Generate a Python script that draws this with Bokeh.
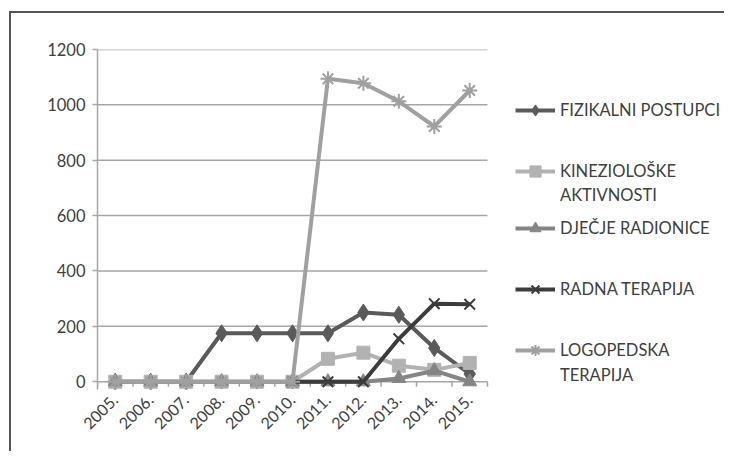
import math
from bokeh.plotting import figure
from bokeh.models import Range1d, FixedTicker, Legend, LegendItem
from bokeh.embed import file_html
from bokeh.resources import INLINE

years = ["2005.", "2006.", "2007.", "2008.", "2009.", "2010.",
         "2011.", "2012.", "2013.", "2014.", "2015."]
fizikalni = [0, 0, 0, 175, 175, 175, 175, 250, 242, 122, 28]
kinezioloske = [0, 0, 0, 0, 0, 0, 83, 105, 58, 43, 68]
djecje = [0, 0, 0, 0, 0, 0, 0, 0, 12, 40, 0]
radna = [math.nan, math.nan, math.nan, math.nan, math.nan, 0, 0, 0, 155, 282, 280]
logopedska = [0, 0, 0, 0, 0, 0, 1094, 1078, 1013, 922, 1052]
y_ticks = [0, 200, 400, 600, 800, 1000, 1200]

FONT = "Lato"
TXT = "#404040"
AX = "#a6a6a6"

W, H = 715, 440
LEFT, TOP, BOTTOM = 86, 36, 64
CAT_PX = 35.45
frame_w = W - LEFT
xs = list(range(len(years)))

p = figure(width=W, height=H, output_backend="svg", toolbar_location=None,
           x_range=Range1d(-0.5, -0.5 + frame_w / CAT_PX),
           y_range=Range1d(-28, 1200),
           min_border_left=LEFT, min_border_right=0, min_border_top=TOP,
           min_border_bottom=BOTTOM)
p.styles = {"margin-left": "9px", "margin-top": "11px",
            "border-top": "2px solid #555555", "border-left": "2px solid #555555"}
p.outline_line_color = None
p.background_fill_color = "white"
p.border_fill_color = "white"

p.xgrid.visible = False
p.ygrid.visible = False

# horizontal gridlines spanning only the category area
x_lo, x_hi = -0.5, len(years) - 0.5
p.segment(x0=[x_lo] * len(y_ticks), y0=y_ticks, x1=[x_hi] * len(y_ticks), y1=y_ticks,
          line_color=AX, line_width=1.5)

p.yaxis.ticker = FixedTicker(ticks=y_ticks)
p.yaxis.axis_line_color = AX
p.yaxis.axis_line_width = 1.5
p.yaxis.major_tick_line_color = AX
p.yaxis.major_tick_line_width = 1.5
p.yaxis.major_tick_out = 5
p.yaxis.major_tick_in = 0
p.yaxis.minor_tick_line_color = None
p.yaxis.major_label_standoff = 7
p.yaxis.major_label_text_font = FONT
p.yaxis.major_label_text_font_size = "16.5px"
p.yaxis.major_label_text_color = TXT

p.xaxis.ticker = FixedTicker(ticks=xs)
p.xaxis.major_label_overrides = {i: y for i, y in enumerate(years)}
p.xaxis.axis_line_color = None
p.xaxis.major_tick_line_color = None
p.xaxis.minor_tick_line_color = None
p.xaxis.major_label_orientation = math.pi / 4
p.xaxis.major_label_standoff = 2
p.xaxis.major_label_text_font = FONT
p.xaxis.major_label_text_font_size = "16px"
p.xaxis.major_label_text_color = TXT

# category boundary tick marks below the zero line
bounds = [i - 0.5 for i in range(len(years) + 1)]
p.segment(x0=bounds, y0=[0] * len(bounds), x1=bounds, y1=[-18] * len(bounds),
          line_color=AX, line_width=1.5)

series = [
    (["FIZIKALNI POSTUPCI"], fizikalni, "#5a5a5a", "diamond", 17),
    (["KINEZIOLOŠKE", "AKTIVNOSTI"], kinezioloske, "#b2b2b2", "square", 13),
    (["DJEČJE RADIONICE"], djecje, "#858585", "triangle", 14),
    (["RADNA TERAPIJA"], radna, "#3c3c3c", "x", 15),
    (["LOGOPEDSKA", "TERAPIJA"], logopedska, "#a0a0a0", "asterisk", 15),
]

# legend row centres (pixels from top of page)
legend_rows = [[110], [171, 195], [228], [289], [350, 375]]

blank = p.line([0, 1], [math.nan, math.nan], line_alpha=0)

frame_bottom_page = 13 + H - BOTTOM
LEG_X = 515 - (11 + LEFT)
GH = 28

for (labels, vals, color, marker, size), rows in zip(series, legend_rows):
    lr = p.line(xs, vals, line_color=color, line_width=4)
    if marker in ("x", "asterisk"):
        sr = p.scatter(xs, vals, marker=marker, size=size, line_color=color,
                       line_width=2)
    else:
        sr = p.scatter(xs, vals, marker=marker, size=size, fill_color=color,
                       line_color=color)
    for k, (lab, cy) in enumerate(zip(labels, rows)):
        rends = [lr, sr] if k == 0 else [blank]
        leg = Legend(items=[LegendItem(label=lab, renderers=rends)],
                     location=(LEG_X, frame_bottom_page - (cy + GH / 2)),
                     padding=0, margin=0, spacing=0,
                     border_line_color=None, background_fill_alpha=0,
                     glyph_width=40, glyph_height=GH, label_standoff=5,
                     label_height=GH, label_text_font=FONT,
                     label_text_font_size="16.5px", label_text_color=TXT)
        p.add_layout(leg, "center")

open("out.html", "w").write(file_html(p, INLINE))
